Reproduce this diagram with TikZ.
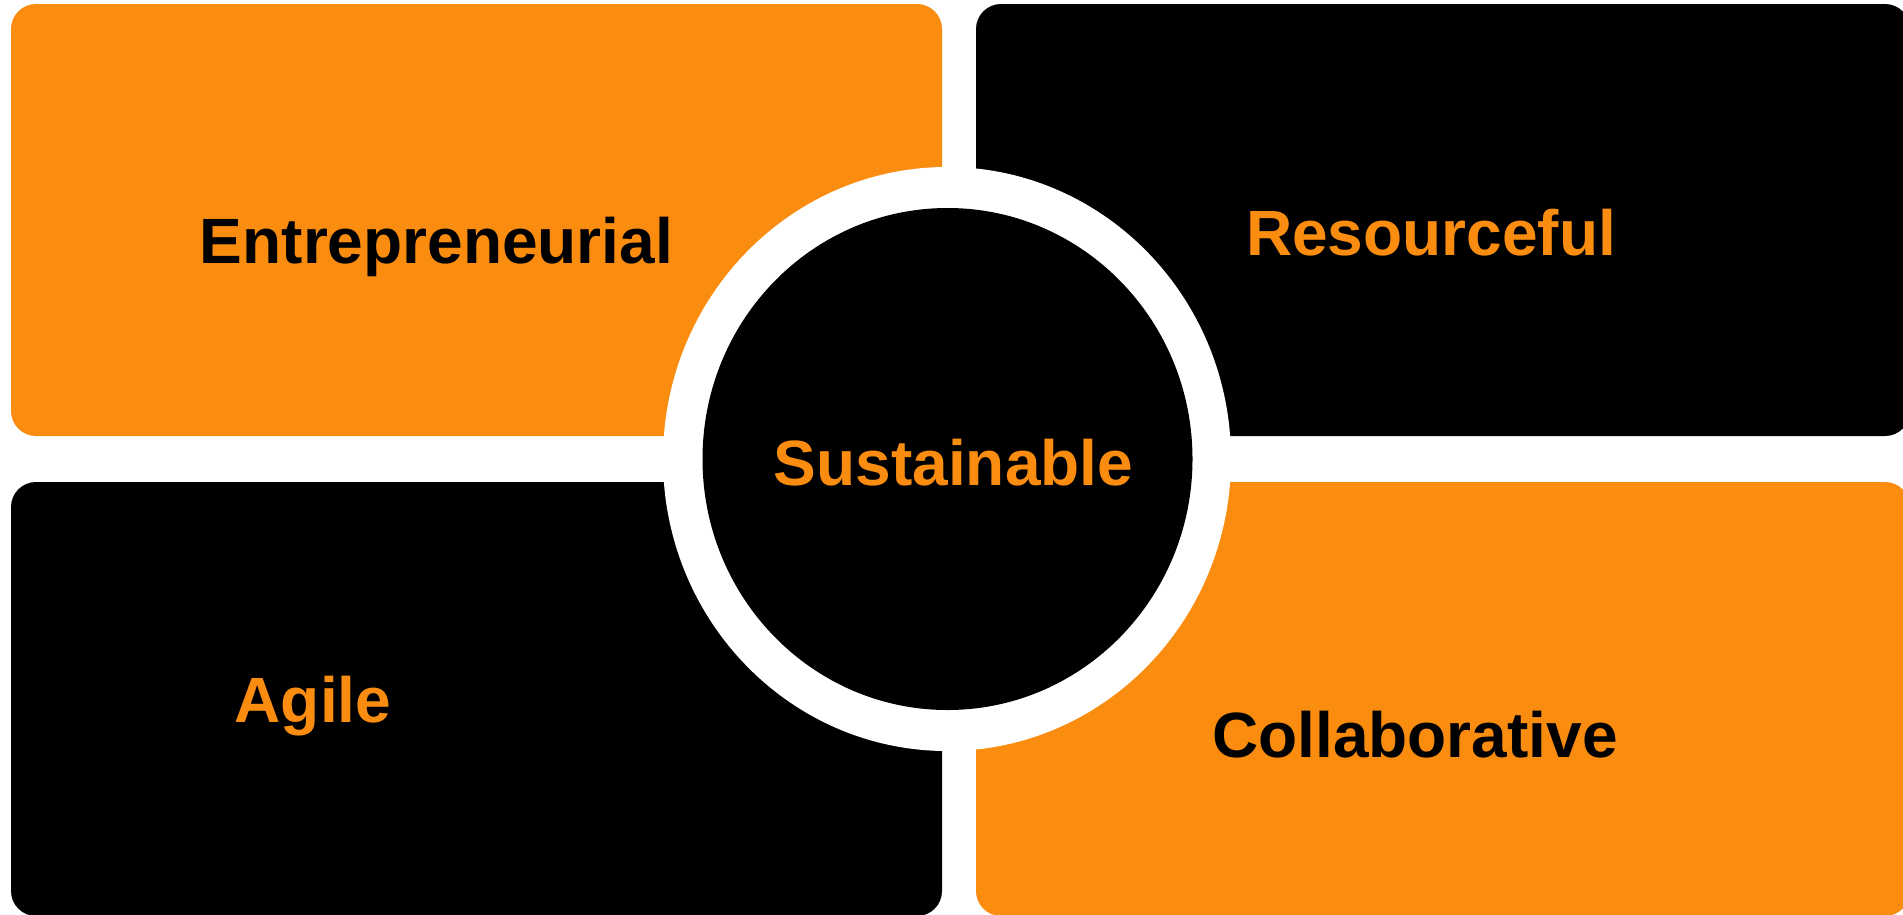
\documentclass[tikz,border=0pt]{standalone}
\usepackage{fontspec}
\setmainfont{Liberation Sans}
\definecolor{brandorange}{RGB}{250,140,16}
\tikzset{
  tile/.style={rounded corners=25pt},
  label/.style={inner sep=0pt, anchor=base, font=\fontsize{64}{70}\selectfont\bfseries}
}
\begin{document}
\begin{tikzpicture}[x=1pt,y=-1pt]
\useasboundingbox (0,0) rectangle (1903,914);
\clip (0,0) rectangle (1903,914);
\fill[white] (0,0) rectangle (1903,914);
% quadrant tiles
\fill[tile, brandorange] (11,4) rectangle (942,436);
\fill[tile, black] (976,4) rectangle (1910,436);
\fill[tile, black] (11,482) rectangle (942,916);
\fill[tile, brandorange] (976,482) rectangle (1910,916);
% central ring
\fill[white] (947,459) ellipse [x radius=284pt, y radius=292pt];
\fill[black] (947.5,459) ellipse [x radius=245pt, y radius=251pt];
% labels
\node[label, text=black] (entre) at (436.5,263) {Entrepreneurial};
\node[label, text=brandorange] (resou) at (1431,255) {Resourceful};
\node[label, text=brandorange] (agile) at (313,722) {Agile};
\node[label, text=black] (colla) at (1415,757) {Collaborative};
\node[label, text=brandorange] (susta) at (953.5,485) {Sustainable};
\end{tikzpicture}
\end{document}
